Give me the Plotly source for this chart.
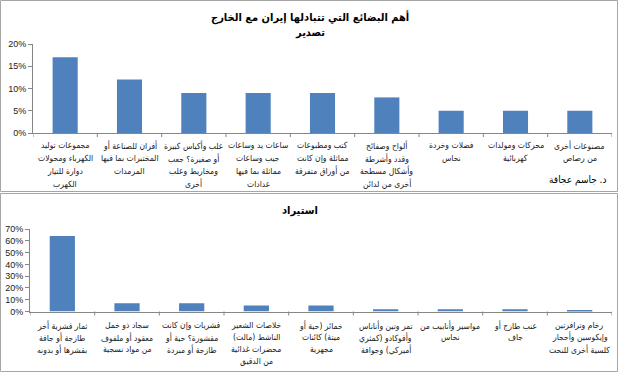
import plotly.graph_objects as go

W, H = 620, 375

export_labels = [
    "مجموعات توليد<br>الكهرباء ومحولات<br>دوارة للتيار<br>الكهرب",
    "أفران للصناعة أو<br>المختبرات بما فيها<br>المرمدات",
    "علب وأكياس كبيرة<br>أو صغيرة؟ جعب<br>ومخاريط وعلب<br>أخرى",
    "ساعات يد وساعات<br>جيب وساعات<br>مماثلة بما فيها<br>عدادات",
    "كتب ومطبوعات<br>مماثلة وإن كانت<br>من أوراق متفرقة",
    "ألواح وصفائح<br>وقدد وأشرطة<br>وأشكال مسطحة<br>أخرى من لدائن",
    "فضلات وخردة<br>نحاس",
    "محركات ومولدات<br>كهربائية",
    "مصنوعات أخرى<br>من رصاص",
]
export_values = [0.17, 0.12, 0.09, 0.09, 0.09, 0.08, 0.05, 0.05, 0.05]

import_labels = [
    "ثمار قشرية أخر<br>طازجة أو جافة<br>بقشرها أو بدونه",
    "سجاد ذو خمل<br>معقود أو ملفوف<br>من مواد نسجية",
    "قشريات وإن كانت<br>مقشورة؟ حية أو<br>طازجة أو مبردة",
    "خلاصات الشعير<br>الناشط (مالت)<br>محضرات غذائية<br>من الدقيق",
    "خمائر (حية أو<br>ميتة) كائنات<br>مجهرية",
    "تمر وتين وأناناس<br>وأفوكادو (كمثري<br>أميركي) وجوافة",
    "مواسير وأنابيب من<br>نحاس",
    "عنب طازج أو<br>جاف",
    "رخام وترافرتين<br>وإيكوسين وأحجار<br>كلسية أخرى للنحت",
]
import_values = [0.64, 0.07, 0.07, 0.05, 0.05, 0.02, 0.02, 0.02, 0.01]

title_main = "أهم البضائع التي تتبادلها إيران مع الخارج"
title_export = "تصدير"
title_import = "استيراد"
author = "د. جاسم عجاقة"

BAR = "#4F81BD"
FONT = "Liberation Sans, DejaVu Sans, sans-serif"
AFONT = "DejaVu Sans Condensed, DejaVu Sans, sans-serif"
AX = "#868686"

def px(x):
    return x / W

def py(y):
    return 1 - y / H

fig = go.Figure()
fig.add_trace(go.Bar(x=list(range(9)), y=export_values, marker_color=BAR,
                     marker_line_width=0, width=0.39, xaxis="x", yaxis="y"))
fig.add_trace(go.Bar(x=list(range(9)), y=import_values, marker_color=BAR,
                     marker_line_width=0, width=0.39, xaxis="x2", yaxis="y2"))

common_x = dict(range=[-0.5, 8.5], showticklabels=False, automargin=False,
                showline=True, linecolor=AX, linewidth=1, ticks="", showgrid=False,
                zeroline=False, fixedrange=True)
common_y = dict(showline=True, linecolor=AX, linewidth=1, ticks="outside", automargin=False,
                ticklen=4, tickcolor=AX, showgrid=False, zeroline=False,
                tickformat=".0%", tickfont=dict(size=9, color="#222", family=FONT))

fig.update_layout(
    width=W, height=H, margin=dict(l=0, r=0, t=0, b=0, autoexpand=False),
    paper_bgcolor="white", plot_bgcolor="white", showlegend=False,
    font=dict(family=FONT),
    xaxis=dict(domain=[px(33), px(612)], anchor="y", **common_x),
    yaxis=dict(domain=[py(133), py(44)], anchor="x", range=[0, 0.2], dtick=0.05, **common_y),
    xaxis2=dict(domain=[px(30), px(612)], anchor="y2", **common_x),
    yaxis2=dict(domain=[py(311.5), py(229)], anchor="x2", range=[0, 0.7], dtick=0.1, **common_y),
)

shapes = []
shapes.append(dict(type="rect", xref="paper", yref="paper", x0=px(0.5), x1=px(617.5),
                   y0=py(191.5), y1=py(0.5), line=dict(color="#A6A6A6", width=1)))
shapes.append(dict(type="rect", xref="paper", yref="paper", x0=px(0.5), x1=px(617.5),
                   y0=py(371.5), y1=py(193.5), line=dict(color="#A6A6A6", width=1)))
for xa, ya, frac in (("x", "y", 4 / 89), ("x2", "y2", 4 / 82.5)):
    for i in range(10):
        shapes.append(dict(type="line", xref=xa, yref=ya + " domain", x0=i - 0.5, x1=i - 0.5,
                           y0=0, y1=-frac, line=dict(color=AX, width=1)))
fig.update_layout(shapes=shapes)

ann = [
    dict(text="<b>" + title_main + "</b>", x=px(310), y=py(17), xref="paper",
         font=dict(size=11, color="black", family=AFONT)),
    dict(text="<b>" + title_export + "</b>", x=px(310), y=py(33), xref="paper",
         font=dict(size=11, color="black", family=AFONT)),
    dict(text="<b>" + title_import + "</b>", x=px(300), y=py(210), xref="paper",
         font=dict(size=11, color="black", family=AFONT)),
    dict(text=author, x=px(608), y=py(180), xref="paper", xanchor="right",
         font=dict(size=10, color="black", family=AFONT)),
]
for labels, xa, y0, step in ((export_labels, "x", 145, 13), (import_labels, "x2", 325, 12)):
    for i, t in enumerate(labels):
        for k, line in enumerate(t.split("<br>")):
            ann.append(dict(text=line, x=i, xref=xa, y=py(y0 + k * step),
                            font=dict(size=8.5, color="#222", family=AFONT)))
for a in ann:
    a.update(yref="paper", showarrow=False, xanchor=a.get("xanchor", "center"),
             yanchor="middle")
fig.update_layout(annotations=ann)

fig.write_html("out.html", config={"displayModeBar": False},
               post_script="document.body.style.margin='0';")
